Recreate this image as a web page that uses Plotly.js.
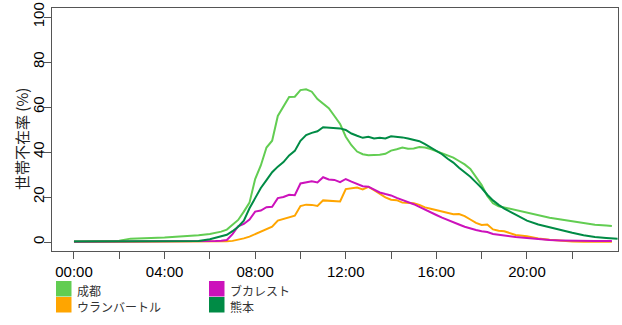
<!DOCTYPE html>
<html><head><meta charset="utf-8">
<script src="https://cdn.plot.ly/plotly-3.0.1.min.js"></script>
<style>body{margin:0;background:#fff}#c{width:622px;height:325px}</style>
</head><body><div id="c"></div>
<script>
// hours of day (0.5 h steps at night, 0.25 h steps 6:00-19:00)
const hours = [0,0.5,1,1.5,2,2.5,3,3.5,4,4.5,5,5.5,
 6,6.25,6.5,6.75,7,7.25,7.5,7.75,8,8.25,8.5,8.75,9,9.25,9.5,9.75,10,10.25,10.5,10.75,
 11,11.25,11.5,11.75,12,12.25,12.5,12.75,13,13.25,13.5,13.75,14,14.25,14.5,14.75,
 15,15.25,15.5,15.75,16,16.25,16.5,16.75,17,17.25,17.5,17.75,18,18.25,18.5,18.75,
 19,19.5,20,20.5,21,21.5,22,22.5,23,23.5,23.75,24];

const names = ['成都','ウランバートル','ブカレスト','熊本'];
const colors = ['#62CD52','#FFA500','#CC12BB','#008B45'];

const chengdu = [0.3,0.3,0.3,0.3,0.6,1.5,1.6,1.8,2.0,2.3,2.6,3.0,
 3.6,4.1,4.6,5.5,7.5,9.8,13.5,17.5,28,34,42,45,56,60.5,64.5,64.6,67.5,67.9,66.8,63.5,
 61.6,59.5,56,52.5,46.8,43,40.2,39,38.6,38.6,38.8,39.2,40.6,41.2,42,41.5,
 41.6,42.2,42,41.3,40.4,39.5,38.5,37.5,36,34.5,32.5,29,25.3,20.5,17.2,15.9,
 15.3,14.3,13,12,10.8,10,9.2,8.4,7.7,7.3,7.1,null];

const ulaanbaatar = [0,0,0,0,0,0,0,0,0,0,0,0,
 0,0,0.1,0.3,0.5,1.0,1.6,2.4,3.5,4.5,5.5,6.8,9.5,10.3,10.8,11.7,16,16.6,16.5,16,
 18.5,18.4,18.2,18,23.5,24,24.2,23.4,24.5,23,21.2,19.8,18.8,18.6,17.5,17.2,
 17.2,16.5,15.4,14.8,14.2,13.6,12.9,12.3,12.4,11.5,10,8.5,7.6,7.8,5.6,5,
 4.8,3.1,2.6,1.6,1.0,0.5,0.2,0.1,0.1,0.1,0.1,null];

const bucharest = [0.1,0.1,0.1,0.1,0.1,0.1,0.1,0.1,0.1,0.1,0.1,0.1,
 0.3,0.4,0.6,0.9,3.5,7,8,10,13.5,14,15.5,15.7,19.5,20,21,20.8,26,26.4,27,26.5,
 28.8,27.8,27.6,26.6,28,26.8,25.8,24.8,24.6,23.3,22,21.3,20.7,19.6,18.7,17.8,
 16.8,15.6,14.5,13.2,12,10.8,9.7,8.6,7.8,6.8,6.0,5.3,4.8,4.4,3.6,3.2,
 3.0,2.2,1.8,1.3,0.9,0.7,0.5,0.4,0.4,0.4,0.4,null];

const kumamoto = [0.2,0.2,0.2,0.2,0.2,0.2,0.2,0.2,0.2,0.2,0.2,0.4,
 1.2,1.8,2.5,3.2,4.8,6.8,9.5,15,19.5,24,27.5,31,33.5,35.5,38.5,40.5,45,47.5,48.5,49.2,
 51,50.8,50.5,50.5,49.8,48.2,47.2,46.3,46.8,46,46.3,46,47,46.8,46.5,46,
 45.5,44.8,43.5,42,40.6,39,37,35.3,33,31,29,26.5,24,21,18.5,16.5,
 14.8,12.2,9.5,7.8,6.5,5.2,4.1,3.0,2.2,1.8,1.6,1.5];

const series = [chengdu, ulaanbaatar, bucharest, kumamoto];

const xTickVals = [0,2,4,6,8,10,12,14,16,18,20,22];
const xTickText = ['00:00','','04:00','','08:00','','12:00','','16:00','','20:00',''];
const yTickVals = [0,20,40,60,80,100];
const yTitle = '世帯不在率 (%)';

const W=622,H=325,L=52,R=4,T=8,B=74;
const pw=W-L-R, ph=H-T-B;
const px=x=>(x-L)/pw, py=y=>(H-B-y)/ph;

const traces = series.map((s,i)=>({
  x: hours, y: s, type:'scatter', mode:'lines', name:names[i],
  line:{color:colors[i], width:2}, hoverinfo:'skip', connectgaps:false
}));

// legend layout (2 columns, column-major)
const legPos = [[56,281],[56,297],[209,281],[209,297]];
const shapes=[], annotations=[];
names.forEach((n,i)=>{
  const [lx,ly]=legPos[i];
  shapes.push({type:'rect', xref:'paper', yref:'paper', x0:px(lx), x1:px(lx+15.5), y0:py(ly), y1:py(ly+15.5),
    fillcolor:colors[i], line:{width:0}});
  annotations.push({xref:'paper', yref:'paper', x:px(lx+19), y:py(ly+9), xanchor:'left', yanchor:'middle',
    text:n, showarrow:false, font:{family:'Noto Sans CJK JP', size:12, color:'#333'}});
});
annotations.push({xref:'paper', yref:'paper', x:px(21), y:py(139), xanchor:'center', yanchor:'middle',
  text:yTitle, textangle:-90, showarrow:false, font:{family:'Noto Sans CJK JP', size:15, color:'#222'}});

const layout = {
  width:W, height:H, margin:{l:L,r:R,t:T,b:B}, showlegend:false,
  paper_bgcolor:'#fff', plot_bgcolor:'#fff',
  xaxis:{range:[-0.97,24.02], tickvals:xTickVals, ticktext:xTickText, ticks:'outside', ticklen:7,
    tickcolor:'#555', showline:true, mirror:true, linecolor:'#555', linewidth:1, showgrid:false, zeroline:false,
    tickfont:{family:'Liberation Sans', size:15, color:'#000'}},
  yaxis:{range:[-4,104], tickvals:yTickVals, ticks:'outside', ticklen:7, tickangle:-90, ticklabelstandoff:-6,
    tickcolor:'#555', showline:true, mirror:true, linecolor:'#555', linewidth:1, showgrid:false, zeroline:false,
    tickfont:{family:'Liberation Sans', size:15, color:'#000'}},
  shapes, annotations
};
Plotly.newPlot('c', traces, layout, {staticPlot:true, displayModeBar:false});
</script></body></html>
